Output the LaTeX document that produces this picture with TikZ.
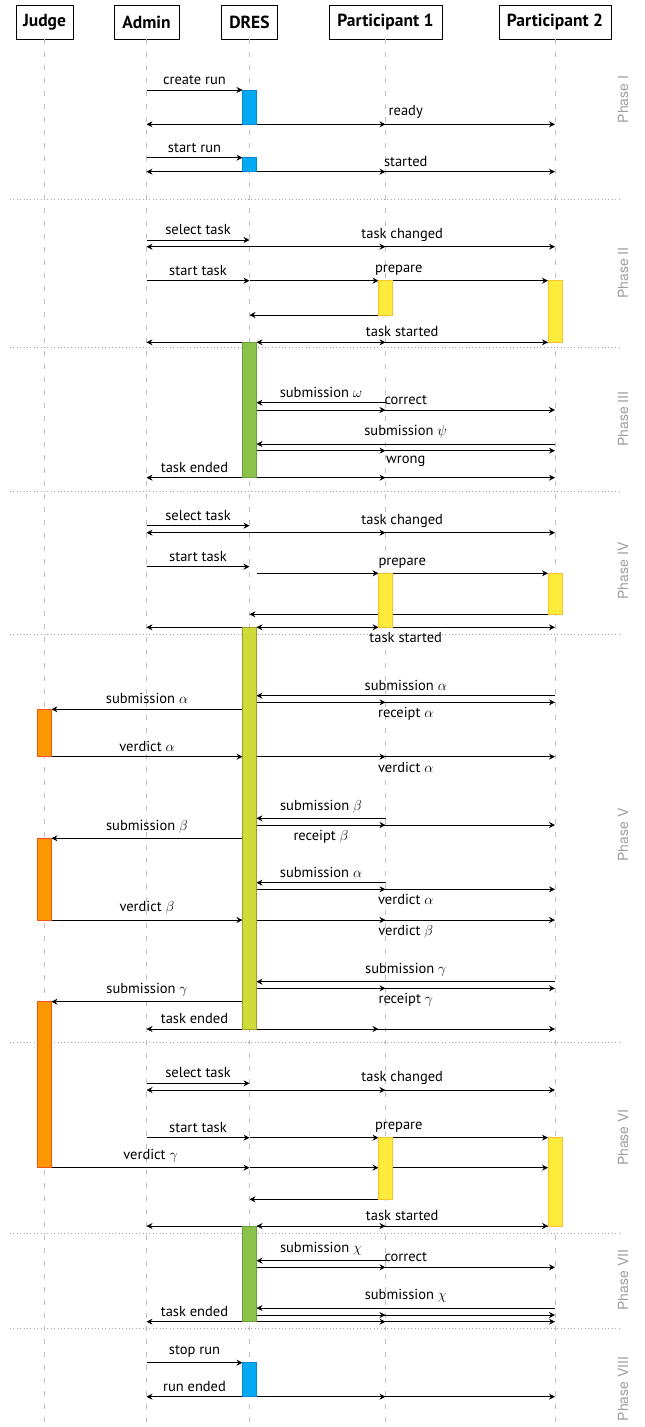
\documentclass[tikz,border=0pt]{standalone}
\usepackage{fontspec}
\setmainfont{PT Sans}
\newfontfamily\phasefont{TeX Gyre Heros}
\usetikzlibrary{arrows.meta}
\definecolor{cBlue}{HTML}{03A9F4}\definecolor{cBlueD}{HTML}{0288D1}
\definecolor{cGreen}{HTML}{8BC34A}\definecolor{cGreenD}{HTML}{689F38}
\definecolor{cLime}{HTML}{CDDC39}\definecolor{cLimeD}{HTML}{9E9D24}
\definecolor{cYellow}{HTML}{FFEB3B}\definecolor{cYellowD}{HTML}{FBC02D}
\definecolor{cOrange}{HTML}{FF9800}\definecolor{cOrangeD}{HTML}{F4511E}
\begin{document}
\begin{tikzpicture}[x=1pt,y=-1pt,
  hdr/.style={draw, line width=0.8pt, fill=white, font=\fontsize{17.5}{19}\selectfont\bfseries, minimum height=34pt, inner sep=0pt},
  life/.style={draw=gray!50, line width=0.8pt, dash pattern=on 5pt off 8pt},
  sep/.style={draw=gray!70, line width=0.6pt, dash pattern=on 0.6pt off 2.8pt},
  msg/.style={-{Stealth[length=6pt,width=6pt,inset=2pt]}, line width=0.8pt},
  lbl/.style={font=\fontsize{14.5}{16}\selectfont, inner sep=2pt},
  abv/.style={lbl, above=3pt},
  blw/.style={lbl, below=3pt},
  actbar/.style={minimum width=14pt, inner sep=0pt, outer sep=0pt, anchor=north, line width=0.6pt},
  bblue/.style={actbar, fill=cBlue, draw=cBlueD},
  bgreen/.style={actbar, fill=cGreen, draw=cGreenD},
  blime/.style={actbar, fill=cLime, draw=cLimeD},
  byellow/.style={actbar, fill=cYellow, draw=cYellowD},
  borange/.style={actbar, fill=cOrange, draw=cOrangeD},
  phase/.style={font=\phasefont\fontsize{14}{16}\selectfont, text=gray!75, rotate=90}
]
\useasboundingbox (0,0) rectangle (645,1427);
% headers
\node[hdr, minimum width=57pt] (J) at (44.5,22) {Judge};
\node[hdr, minimum width=65pt] (A) at (146.5,22) {Admin};
\node[hdr, minimum width=56pt] (D) at (249.5,22) {DRES};
\node[hdr, minimum width=113pt] (P1) at (385.5,22) {Participant 1};
\node[hdr, minimum width=112pt] (P2) at (555,22) {Participant 2};
\coordinate (Jr) at ([xshift=7pt]J.center);
\coordinate (Dl) at ([xshift=-7pt]D.center);
\coordinate (Dr) at ([xshift=7pt]D.center);
\coordinate (P1l) at ([xshift=-7pt]P1.center);
\coordinate (P2l) at ([xshift=-7pt]P2.center);
% lifelines
\foreach \n in {J,A,D,P1,P2} \draw[life] (\n.south) -- (\n |- 0,1427);
% separators
\foreach \y in {199.3,347.3,491.7,634.3,1042,1233.3,1328.3} \draw[sep] (10,\y) -- (620,\y);
% phase labels
\node[phase] (ph1) at (623,99.5) {Phase I};
\node[phase] (ph2) at (623,273) {Phase II};
\node[phase] (ph3) at (623,419) {Phase III};
\node[phase] (ph4) at (623,571) {Phase IV};
\node[phase] (ph5) at (623,835) {Phase V};
\node[phase] (ph6) at (623,1137.5) {Phase VI};
\node[phase] (ph7) at (623,1280) {Phase VII};
\node[phase] (ph8) at (623,1389) {Phase VIII};

% Phase I
\draw[msg] (A |- 0,90) -- node[abv]{create run} (Dl |- 0,90);
\draw[msg] (Dl |- 0,124.3) -- (A |- 0,124.3);
\draw[msg] (Dr |- 0,124.3) -- (P1 |- 0,124.3);
\draw[msg] (Dr |- 0,124.3) -- node[abv]{ready} (P2 |- 0,124.3);
\draw[msg] (A |- 0,157.7) -- node[abv]{start run} (Dl |- 0,157.7);
\draw[msg] (Dl |- 0,171.7) -- (A |- 0,171.7);
\draw[msg] (Dr |- 0,171.7) -- (P1 |- 0,171.7);
\draw[msg] (Dr |- 0,171.7) -- node[abv]{started} (P2 |- 0,171.7);
% Phase II
\draw[msg] (A |- 0,240) -- node[abv]{select task} (D |- 0,240);
\draw[msg] (D |- 0,246.7) -- (A |- 0,246.7);
\draw[msg] (D |- 0,246.7) -- (P1 |- 0,246.7);
\draw[msg] (D |- 0,246.7) -- node[abv]{task changed} (P2 |- 0,246.7);
\draw[msg] (A |- 0,280.7) -- node[abv]{start task} (D |- 0,280.7);
\draw[msg] (D |- 0,280.7) -- (P1l |- 0,280.7);
\draw[msg] (D |- 0,280.7) -- node[abv]{prepare} (P2l |- 0,280.7);
\draw[msg] (P1l |- 0,315) -- (D |- 0,315);
\draw[msg] (Dl |- 0,342.3) -- (A |- 0,342.3);
\draw[msg] (P2l |- 0,342.3) -- (Dr |- 0,342.3);
\draw[msg] (Dr |- 0,342.3) -- (P1 |- 0,342.3);
\draw[msg] (Dr |- 0,342.3) -- node[abv]{task started} (P2l |- 0,342.3);
% Phase III
\draw[msg] (P1 |- 0,402.7) -- node[abv]{submission $\omega$} (Dr |- 0,402.7);
\draw[msg] (Dr |- 0,410) -- (P1 |- 0,410);
\draw[msg] (Dr |- 0,410) -- node[abv]{correct} (P2 |- 0,410);
\draw[msg] (P2 |- 0,444) -- node[abv]{submission $\psi$} (Dr |- 0,444);
\draw[msg] (Dr |- 0,450.7) -- (P1 |- 0,450.7);
\draw[msg] (Dr |- 0,450.7) -- node[blw]{wrong} (P2 |- 0,450.7);
\draw[msg] (Dl |- 0,477.7) -- node[abv]{task ended} (A |- 0,477.7);
\draw[msg] (Dr |- 0,477.7) -- (P1 |- 0,477.7);
\draw[msg] (Dr |- 0,477.7) -- (P2 |- 0,477.7);
% Phase IV
\draw[msg] (A |- 0,525.7) -- node[abv]{select task} (D |- 0,525.7);
\draw[msg] (D |- 0,532.7) -- (A |- 0,532.7);
\draw[msg] (D |- 0,532.7) -- (P1 |- 0,532.7);
\draw[msg] (D |- 0,532.7) -- node[abv]{task changed} (P2 |- 0,532.7);
\draw[msg] (A |- 0,566.7) -- node[abv]{start task} (D |- 0,566.7);
\draw[msg] (Dr |- 0,573.3) -- (P1l |- 0,573.3);
\draw[msg] (Dr |- 0,573.3) -- node[abv]{prepare} (P2l |- 0,573.3);
\draw[msg] (P2l |- 0,614.3) -- (D |- 0,614.3);
\draw[msg] (Dl |- 0,627.3) -- (A |- 0,627.3);
\draw[msg] (P1l |- 0,627.3) -- (Dr |- 0,627.3);
\draw[msg] (Dr |- 0,627.3) -- (P1l |- 0,627.3);
\draw[msg] (Dr |- 0,627.3) -- node[blw]{task started} (P2 |- 0,627.3);
% Phase V
\draw[msg] (P2 |- 0,695.7) -- node[abv]{submission $\alpha$} (Dr |- 0,695.7);
\draw[msg] (Dr |- 0,702.3) -- (P1 |- 0,702.3);
\draw[msg] (Dr |- 0,702.3) -- node[blw]{receipt $\alpha$} (P2 |- 0,702.3);
\draw[msg] (Dl |- 0,709.3) -- node[abv]{submission $\alpha$} (Jr |- 0,709.3);
\draw[msg] (Jr |- 0,756.7) -- node[abv]{verdict $\alpha$} (Dl |- 0,756.7);
\draw[msg] (Dr |- 0,756.7) -- (P1 |- 0,756.7);
\draw[msg] (Dr |- 0,756.7) -- node[blw]{verdict $\alpha$} (P2 |- 0,756.7);
\draw[msg] (P1 |- 0,818.3) -- node[abv]{submission $\beta$} (Dr |- 0,818.3);
\draw[msg] (Dr |- 0,825) -- node[blw]{receipt $\beta$} (P1 |- 0,825);
\draw[msg] (Dr |- 0,825) -- (P2 |- 0,825);
\draw[msg] (Dl |- 0,838.3) -- node[abv]{submission $\beta$} (Jr |- 0,838.3);
\draw[msg] (P1 |- 0,882.7) -- node[abv]{submission $\alpha$} (Dr |- 0,882.7);
\draw[msg] (Dr |- 0,889.3) -- (P1 |- 0,889.3);
\draw[msg] (Dr |- 0,889.3) -- node[blw]{verdict $\alpha$} (P2 |- 0,889.3);
\draw[msg] (Jr |- 0,920) -- node[abv]{verdict $\beta$} (Dl |- 0,920);
\draw[msg] (Dr |- 0,920) -- (P1 |- 0,920);
\draw[msg] (Dr |- 0,920) -- node[blw]{verdict $\beta$} (P2 |- 0,920);
\draw[msg] (P2 |- 0,981.7) -- node[abv]{submission $\gamma$} (Dr |- 0,981.7);
\draw[msg] (Dr |- 0,988.3) -- (P1 |- 0,988.3);
\draw[msg] (Dr |- 0,988.3) -- node[blw]{receipt $\gamma$} (P2 |- 0,988.3);
\draw[msg] (Dl |- 0,1001.7) -- node[abv]{submission $\gamma$} (Jr |- 0,1001.7);
\draw[msg] (Dl |- 0,1029) -- node[abv]{task ended} (A |- 0,1029);
\draw[msg] (Dr |- 0,1029) -- (P1l |- 0,1029);
\draw[msg] (Dr |- 0,1029) -- (P2 |- 0,1029);
% Phase VI
\draw[msg] (A |- 0,1083.3) -- node[abv]{select task} (D |- 0,1083.3);
\draw[msg] (D |- 0,1090) -- (A |- 0,1090);
\draw[msg] (D |- 0,1090) -- (P1 |- 0,1090);
\draw[msg] (D |- 0,1090) -- node[abv]{task changed} (P2 |- 0,1090);
\draw[msg] (A |- 0,1137.7) -- node[abv]{start task} (D |- 0,1137.7);
\draw[msg] (D |- 0,1137.7) -- (P1l |- 0,1137.7);
\draw[msg] (D |- 0,1137.7) -- node[abv]{prepare} (P2l |- 0,1137.7);
\draw[msg] (Jr |- 0,1167.7) -- node[abv]{verdict $\gamma$} (D |- 0,1167.7);
\draw[msg] (D |- 0,1167.7) -- (P1l |- 0,1167.7);
\draw[msg] (D |- 0,1167.7) -- (P2l |- 0,1167.7);
\draw[msg] (P1l |- 0,1199.3) -- (D |- 0,1199.3);
\draw[msg] (Dl |- 0,1226) -- (A |- 0,1226);
\draw[msg] (P2l |- 0,1226) -- (Dr |- 0,1226);
\draw[msg] (Dr |- 0,1226) -- (P1 |- 0,1226);
\draw[msg] (Dr |- 0,1226) -- node[abv]{task started} (P2l |- 0,1226);
% Phase VII
\draw[msg] (P1 |- 0,1260.7) -- node[abv]{submission $\chi$} (Dr |- 0,1260.7);
\draw[msg] (Dr |- 0,1267.3) -- (P1 |- 0,1267.3);
\draw[msg] (Dr |- 0,1267.3) -- node[abv]{correct} (P2 |- 0,1267.3);
\draw[msg] (P2 |- 0,1308) -- node[abv]{submission $\chi$} (Dr |- 0,1308);
\draw[msg] (Dr |- 0,1315) -- (P1 |- 0,1315);
\draw[msg] (Dr |- 0,1315) -- (P2 |- 0,1315);
\draw[msg] (Dl |- 0,1321.7) -- node[abv]{task ended} (A |- 0,1321.7);
\draw[msg] (Dr |- 0,1321.7) -- (P1 |- 0,1321.7);
\draw[msg] (Dr |- 0,1321.7) -- (P2 |- 0,1321.7);
% Phase VIII
\draw[msg] (A |- 0,1362.7) -- node[abv]{stop run} (Dl |- 0,1362.7);
\draw[msg] (Dl |- 0,1396.7) -- node[abv]{run ended} (A |- 0,1396.7);
\draw[msg] (Dr |- 0,1396.7) -- (P1 |- 0,1396.7);
\draw[msg] (Dr |- 0,1396.7) -- (P2 |- 0,1396.7);

% activation bars
\node[bblue, minimum height=34.3pt] (b1) at (D |- 0,90) {};
\node[bblue, minimum height=14pt] (b2) at (D |- 0,157.7) {};
\node[byellow, minimum height=34.3pt] (y1) at (P1 |- 0,280.7) {};
\node[byellow, minimum height=61.6pt] (y2) at (P2 |- 0,280.7) {};
\node[bgreen, minimum height=135.4pt] (g1) at (D |- 0,342.3) {};
\node[byellow, minimum height=54pt] (y3) at (P1 |- 0,573.3) {};
\node[byellow, minimum height=41pt] (y4) at (P2 |- 0,573.3) {};
\node[blime, minimum height=401.7pt] (l1) at (D |- 0,627.3) {};
\node[borange, minimum height=47.4pt] (o1) at (J |- 0,709.3) {};
\node[borange, minimum height=81.7pt] (o2) at (J |- 0,838.3) {};
\node[borange, minimum height=166pt] (o3) at (J |- 0,1001.7) {};
\node[byellow, minimum height=61.6pt] (y5) at (P1 |- 0,1137.7) {};
\node[byellow, minimum height=88.3pt] (y6) at (P2 |- 0,1137.7) {};
\node[bgreen, minimum height=95.7pt] (g2) at (D |- 0,1226) {};
\node[bblue, minimum height=34pt] (b3) at (D |- 0,1362.7) {};
\end{tikzpicture}
\end{document}
